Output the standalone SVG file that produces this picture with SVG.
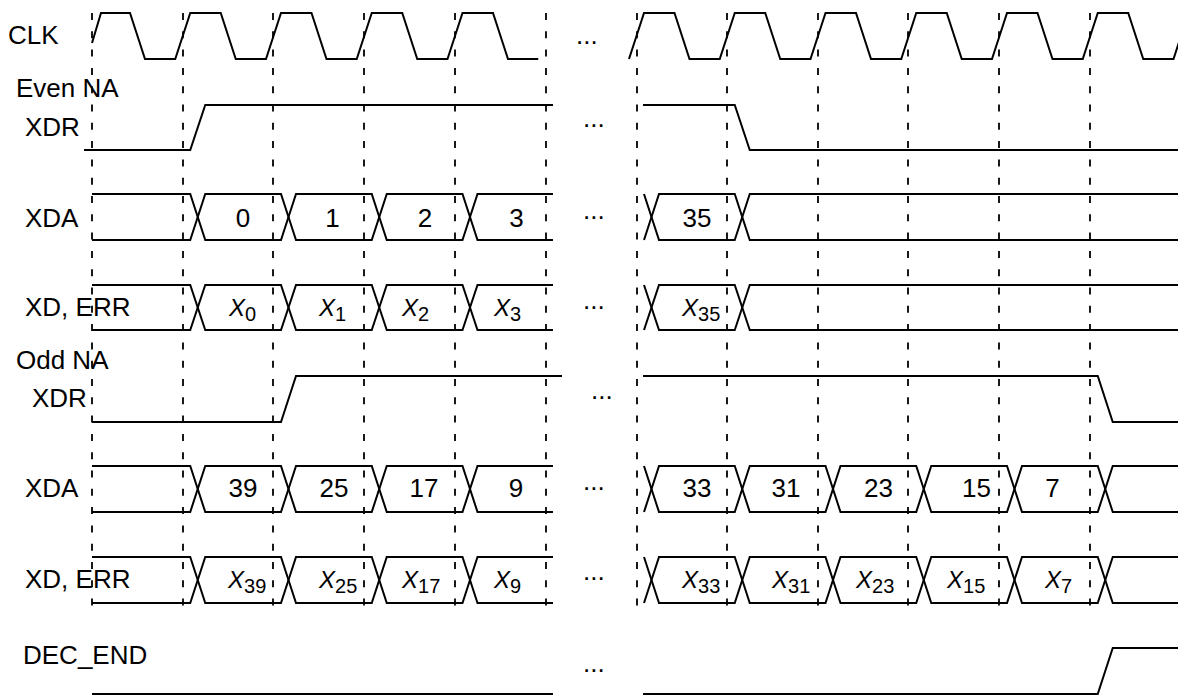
<svg xmlns="http://www.w3.org/2000/svg" width="1178" height="696" viewBox="0 0 1178 696">
<style>
.sig{fill:none;stroke:#000;stroke-width:2;stroke-linejoin:miter}
.grid{fill:none;stroke:#000;stroke-width:1.8;stroke-dasharray:7 11.3}
.lbl{font-family:"Liberation Sans",Arial,Helvetica,sans-serif;font-size:26px;fill:#000}
.val{text-anchor:middle}
.xv{font-size:24px;font-style:italic}
.sub{font-size:20px;font-style:normal}
</style>
<rect width="1178" height="696" fill="#fff"/>
<g id="grid">
<path class="grid" d="M92 13V612M183 13V612M273 13V612M364 13V612M455 13V612M546 13V612M637 13V612M727 13V612M818 13V612M908 13V612M999 13V612M1090 13V612"/>
</g>
<g id="labels" class="lbl">
<text x="8" y="44">CLK</text>
<text x="16" y="97">Even NA</text>
<text x="25" y="136">XDR</text>
<text x="25" y="227">XDA</text>
<text x="25" y="316">XD, ERR</text>
<text x="16" y="369">Odd NA</text>
<text x="32" y="407">XDR</text>
<text x="25" y="497">XDA</text>
<text x="25" y="588">XD, ERR</text>
<text x="23" y="664">DEC_END</text>
</g>
<g id="ellipses" class="lbl">
<text x="576" y="43.5">...</text>
<text x="583" y="126.5">...</text>
<text x="583" y="218.5">...</text>
<text x="583" y="308.5">...</text>
<text x="591" y="398.5">...</text>
<text x="583" y="489.5">...</text>
<text x="583" y="579.5">...</text>
<text x="583" y="671.5">...</text>
</g>
<g id="clk">
<path class="sig" d="M92 43L101 13H130L145 59H175.25L190.25 13H220.75L235.75 59H266L281 13H311.5L326.5 59H356.75L371.75 13H402.25L417.25 59H447.5L462.5 13H493L508 59H538.25"/>
<path class="sig" d="M629 59L644 13H674.5L689.5 59H719.75L734.75 13H765.25L780.25 59H810.5L825.5 13H856L871 59H901.25L916.25 13H946.75L961.75 59H992L1007 13H1037.5L1052.5 59H1082.75L1097.75 13H1128.25L1143.25 59H1173.5L1188.5 13"/>
</g>
<g id="even-xdr">
<path class="sig" d="M84 150H190.25L205.25 105H553"/>
<path class="sig" d="M643 105H734.75L749.75 150H1178"/>
</g>
<g id="even-xda">
<path class="sig" d="M92 194H190.25L205.25 240H281L296 194H371.75L386.75 240H462.5L477.5 194H553"/>
<path class="sig" d="M92 240H190.25L205.25 194H281L296 240H371.75L386.75 194H462.5L477.5 240H553"/>
<path class="sig" d="M644 194L659 240H734.75L749.75 194H1178"/>
<path class="sig" d="M644 240L659 194H734.75L749.75 240H1178"/>
<g class="lbl val">
<text x="243" y="227">0</text>
<text x="332.5" y="227">1</text>
<text x="425" y="227">2</text>
<text x="516.5" y="227">3</text>
<text x="697" y="227">35</text>
</g>
</g>
<g id="even-xd">
<path class="sig" d="M92 285H190.25L205.25 330H281L296 285H371.75L386.75 330H462.5L477.5 285H553"/>
<path class="sig" d="M92 330H190.25L205.25 285H281L296 330H371.75L386.75 285H462.5L477.5 330H553"/>
<path class="sig" d="M644 285L659 330H734.75L749.75 285H1178"/>
<path class="sig" d="M644 330L659 285H734.75L749.75 330H1178"/>
<g class="lbl xv">
<text x="229" y="316">X<tspan class="sub" dy="5">0</tspan></text>
<text x="319" y="316">X<tspan class="sub" dy="5">1</tspan></text>
<text x="402" y="316">X<tspan class="sub" dy="5">2</tspan></text>
<text x="494" y="316">X<tspan class="sub" dy="5">3</tspan></text>
<text x="682" y="316">X<tspan class="sub" dy="5">35</tspan></text>
</g>
</g>
<g id="odd-xdr">
<path class="sig" d="M92 422H281L296 376H562"/>
<path class="sig" d="M643 376H1097.75L1112.75 422H1178"/>
</g>
<g id="odd-xda">
<path class="sig" d="M92 466H190.25L205.25 512H281L296 466H371.75L386.75 512H462.5L477.5 466H553"/>
<path class="sig" d="M92 512H190.25L205.25 466H281L296 512H371.75L386.75 466H462.5L477.5 512H553"/>
<path class="sig" d="M644 466L659 512H734.75L749.75 466H825.5L840.5 512H916.25L931.25 466H1007L1022 512H1097.75L1112.75 466H1178"/>
<path class="sig" d="M644 512L659 466H734.75L749.75 512H825.5L840.5 466H916.25L931.25 512H1007L1022 466H1097.75L1112.75 512H1178"/>
<g class="lbl val">
<text x="243" y="497">39</text>
<text x="334" y="497">25</text>
<text x="424" y="497">17</text>
<text x="516" y="497">9</text>
<text x="697" y="497">33</text>
<text x="786" y="497">31</text>
<text x="878.5" y="497">23</text>
<text x="976.5" y="497">15</text>
<text x="1052.5" y="497">7</text>
</g>
</g>
<g id="odd-xd">
<path class="sig" d="M92 557H190.25L205.25 603H281L296 557H371.75L386.75 603H462.5L477.5 557H553"/>
<path class="sig" d="M92 603H190.25L205.25 557H281L296 603H371.75L386.75 557H462.5L477.5 603H553"/>
<path class="sig" d="M644 557L659 603H734.75L749.75 557H825.5L840.5 603H916.25L931.25 557H1007L1022 603H1097.75L1112.75 557H1178"/>
<path class="sig" d="M644 603L659 557H734.75L749.75 603H825.5L840.5 557H916.25L931.25 603H1007L1022 557H1097.75L1112.75 603H1178"/>
<g class="lbl xv">
<text x="228" y="588">X<tspan class="sub" dy="5">39</tspan></text>
<text x="319" y="588">X<tspan class="sub" dy="5">25</tspan></text>
<text x="402" y="588">X<tspan class="sub" dy="5">17</tspan></text>
<text x="494" y="588">X<tspan class="sub" dy="5">9</tspan></text>
<text x="682" y="588">X<tspan class="sub" dy="5">33</tspan></text>
<text x="772" y="588">X<tspan class="sub" dy="5">31</tspan></text>
<text x="856" y="588">X<tspan class="sub" dy="5">23</tspan></text>
<text x="947" y="588">X<tspan class="sub" dy="5">15</tspan></text>
<text x="1045" y="588">X<tspan class="sub" dy="5">7</tspan></text>
</g>
</g>
<g id="dec-end">
<path class="sig" d="M92 694H553"/>
<path class="sig" d="M643 694H1097.75L1112.75 648H1178"/>
</g>
</svg>
